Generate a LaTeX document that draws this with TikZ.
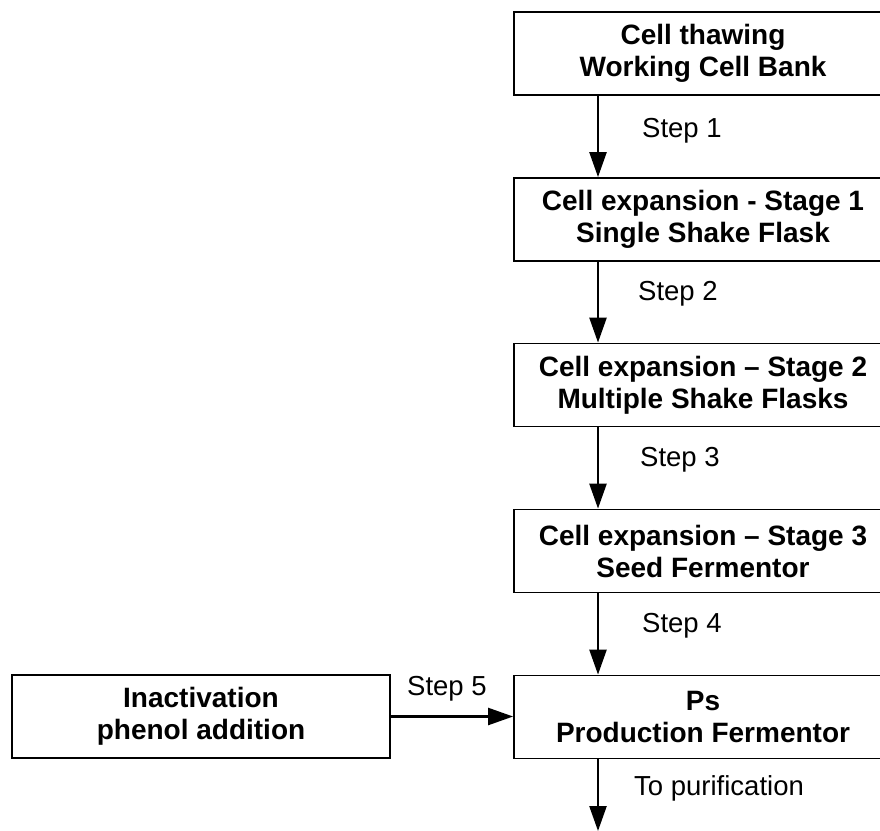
\documentclass[tikz,border=0pt]{standalone}
\usepackage{fontspec}
\setmainfont{Liberation Sans}
\usetikzlibrary{arrows.meta}
\tikzset{
  procbox/.style={draw=black, line width=1.8pt, fill=white, minimum width=378pt, minimum height=83pt,
    inner sep=0pt, align=center, font=\fontsize{28}{32}\selectfont\bfseries},
  flowarrow/.style={line width=2.4pt, -{Triangle[length=25pt,width=17pt]}},
  steplabel/.style={anchor=base west, inner sep=0pt, font=\fontsize{27.5}{31}\selectfont}
}
\begin{document}
\begin{tikzpicture}[x=1pt,y=-1pt]
\useasboundingbox (0,0) rectangle (880,830);
\clip (0,0) rectangle (880,830);
\node[procbox] (b1) at (703,53.5) {Cell thawing\\Working Cell Bank};
\node[procbox] (b2) at (703,219.5) {Cell expansion - Stage 1\\Single Shake Flask};
\node[procbox] (b3) at (703,385) {Cell expansion -- Stage 2\\Multiple Shake Flasks};
\node[procbox] (b4) at (703,551) {Cell expansion -- Stage 3\\Seed Fermentor};
\node[procbox] (b5) at (703,717) {Ps\\Production Fermentor};
\node[procbox] (inact) at (201,716.5) {Inactivation\\phenol addition};
\coordinate (out) at (598,831);

\draw[flowarrow] (b1.south -| out) -- (b2.north -| out);
\draw[flowarrow] (b2.south -| out) -- (b3.north -| out);
\draw[flowarrow] (b3.south -| out) -- (b4.north -| out);
\draw[flowarrow] (b4.south -| out) -- (b5.north -| out);
\draw[flowarrow] (b5.south -| out) -- (out);
\draw[flowarrow] (inact.east) -- (b5.west |- inact.east);

\node[steplabel] (s1) at (642,137) {Step 1};
\node[steplabel] (s2) at (638,300) {Step 2};
\node[steplabel] (s3) at (640,466) {Step 3};
\node[steplabel] (s4) at (642,632) {Step 4};
\node[steplabel] (s5) at (407,695) {Step 5};
\node[steplabel] (s6) at (634,795) {To purification};
\end{tikzpicture}
\end{document}
